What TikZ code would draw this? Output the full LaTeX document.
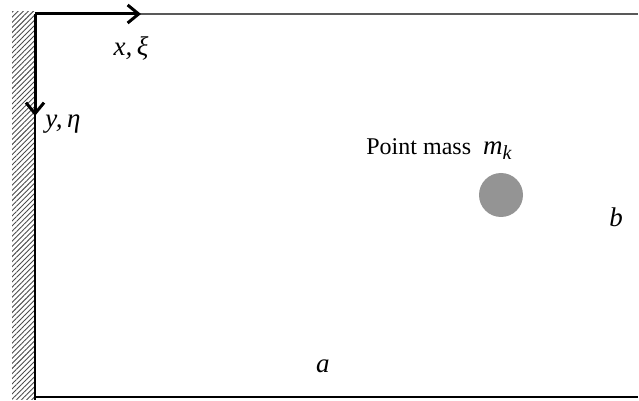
\documentclass[tikz,border=0pt]{standalone}
\usepackage{fontspec}
\setmainfont{Liberation Serif}
\usetikzlibrary{positioning,patterns.meta,arrows.meta}

\begin{document}
\begin{tikzpicture}[x=0.5pt,y=-0.5pt,
    axis/.style = {line width=1.5pt, -{Straight Barb[length=5.5pt,width=9pt,line width=1.5pt]}},
    edge/.style = {line width=0.7pt},
    lbl/.style = {font=\fontsize{12}{14}\selectfont, inner sep=0pt},
    sym/.style = {font=\fontsize{13.5}{15}\selectfont\itshape, inner sep=0pt},
    mass/.style = {circle, fill=black!42, minimum size=22pt, inner sep=0pt}]
  \useasboundingbox (0,0) rectangle (639,401);
  % clamped edge
  \fill[pattern={Lines[angle=45,distance=1.8pt,line width=0.45pt]}, pattern color=black!70]
    (12,12) rectangle (35,400);
  \coordinate (o) at (35,14);
  \coordinate (tr) at (638,14);
  \coordinate (bl) at (35,397);
  \coordinate (br) at (638,397);
  \coordinate (foot) at (35,400);
  \coordinate (xend) at (141,14);
  \coordinate (yend) at (35,116);
  \draw[edge, draw=black!65] (o) -- (tr);
  \draw[edge] (bl) -- (br);
  \draw[edge] (o) -- (foot);
  % axes
  \draw[axis] (o) -- (xend);
  \draw[axis] (o) -- (yend);
  \node[sym] (xlbl) at (131,48) {x,\,ξ};
  \node[sym] (ylbl) at (63,124) {y,\,η};
  % point mass
  \node[mass] (mk) at (501,195) {};
  \node[lbl, anchor=base west] (mklbl) at (366,155)
    {Point mass\ \ {\fontsize{13.5}{15}\selectfont\itshape m}\raisebox{-0.4ex}{\fontsize{10}{11}\selectfont\itshape k}};
  \node[sym] (b) at (616,217) {b};
  \node[sym] (a) at (323,366) {a};
\end{tikzpicture}
\end{document}
